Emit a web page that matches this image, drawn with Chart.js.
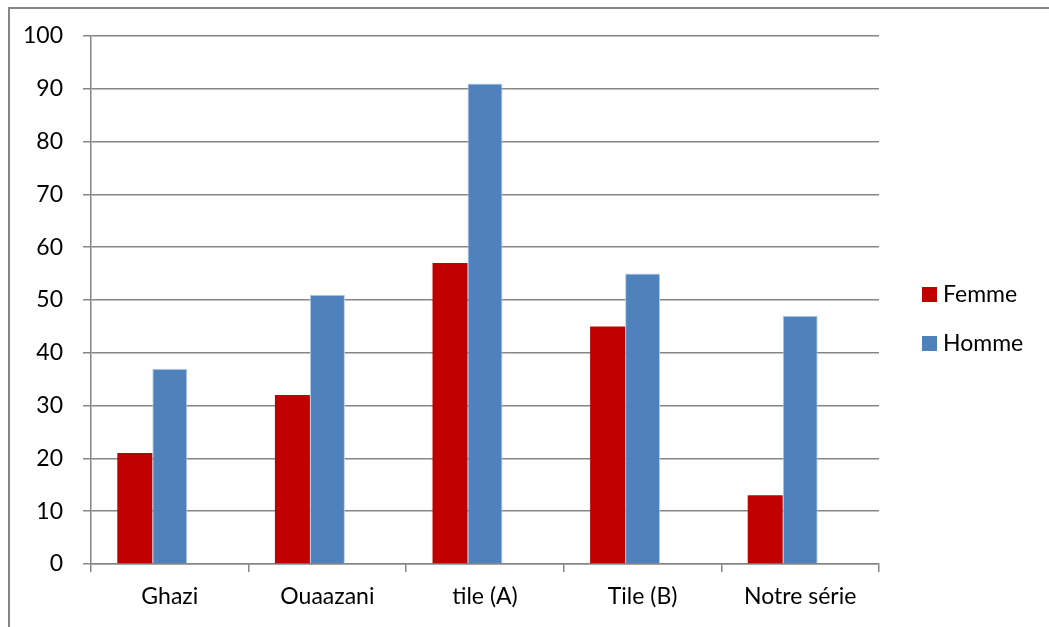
<!DOCTYPE html>
<html>
<head>
<meta charset="utf-8">
<script src="https://cdn.jsdelivr.net/npm/chart.js@4"></script>
<style>
    html, body { margin: 0; padding: 0; background: #fff; }
    canvas { display: block; }
</style>
</head>
<body>
<canvas id="chart" width="1049" height="627"></canvas>
<script>
// Data
const categories = ['Ghazi', 'Ouaazani', 'tile (A)', 'Tile (B)', 'Notre série'];
const femme = [21, 32, 57, 45, 13];
const homme = [37, 51, 91, 55, 47];
const yMin = 0;
const yMax = 100;
const yStep = 10;

const gridGray = '#868686';
const labelFont = { family: 'Lato', size: 23 };

// Grey frame around the chart
const framePlugin = {
    id: 'frame',
    beforeDraw(chart) {
        const ctx = chart.ctx;
        ctx.save();
        ctx.fillStyle = '#fff';
        ctx.fillRect(0, 0, chart.width, chart.height);
        ctx.strokeStyle = gridGray;
        ctx.lineWidth = 2;
        ctx.strokeRect(9, 8, chart.width + 20, chart.height + 20);
        ctx.restore();
    }
};

// Legend on the right, two entries stacked
const sideLegend = {
    id: 'sideLegend',
    afterDraw(chart) {
        const ctx = chart.ctx;
        const items = chart.data.datasets.filter(ds => ds.label);
        ctx.save();
        ctx.font = labelFont.size + 'px ' + labelFont.family;
        ctx.textBaseline = 'middle';
        items.forEach((ds, i) => {
            const cy = 294 + i * 49;
            ctx.fillStyle = ds.backgroundColor;
            ctx.fillRect(922, cy - 7, 15, 15);
            ctx.fillStyle = '#000';
            ctx.fillText(ds.label, 943, cy + 1);
        });
        ctx.restore();
    }
};

new Chart(document.getElementById('chart').getContext('2d'), {
    type: 'bar',
    data: {
        labels: categories,
        datasets: [{
            label: 'Femme',
            data: femme,
            backgroundColor: '#C00000',
            borderWidth: 0
        }, {
            label: 'Homme',
            data: homme,
            backgroundColor: '#4F81BD',
            borderColor: '#B9CDE5',
            borderWidth: 1
        }, {
            // empty third series keeps its slot in each group
            label: '',
            data: categories.map(() => null)
        }]
    },
    options: {
        responsive: false,
        animation: false,
        layout: { padding: { top: 36, right: 170, bottom: 0, left: 0 } },
        datasets: {
            bar: { categoryPercentage: 0.666, barPercentage: 1 }
        },
        plugins: {
            legend: { display: false },
            tooltip: { enabled: false }
        },
        scales: {
            x: {
                afterFit: s => { s.height = 63; },
                grid: {
                    offset: true,
                    drawOnChartArea: false,
                    drawTicks: true,
                    tickLength: 8,
                    color: gridGray,
                    lineWidth: 1.5
                },
                border: { display: true, color: gridGray, width: 1.5 },
                ticks: { color: '#000', font: labelFont, padding: 11 }
            },
            y: {
                min: yMin,
                max: yMax,
                afterFit: s => { s.width = 91; },
                grid: {
                    color: gridGray,
                    lineWidth: 1.5,
                    tickLength: 8
                },
                border: { display: true, color: gridGray, width: 1.5 },
                ticks: { stepSize: yStep, color: '#000', font: labelFont, padding: 20 }
            }
        }
    },
    plugins: [framePlugin, sideLegend]
});
</script>
</body>
</html>
